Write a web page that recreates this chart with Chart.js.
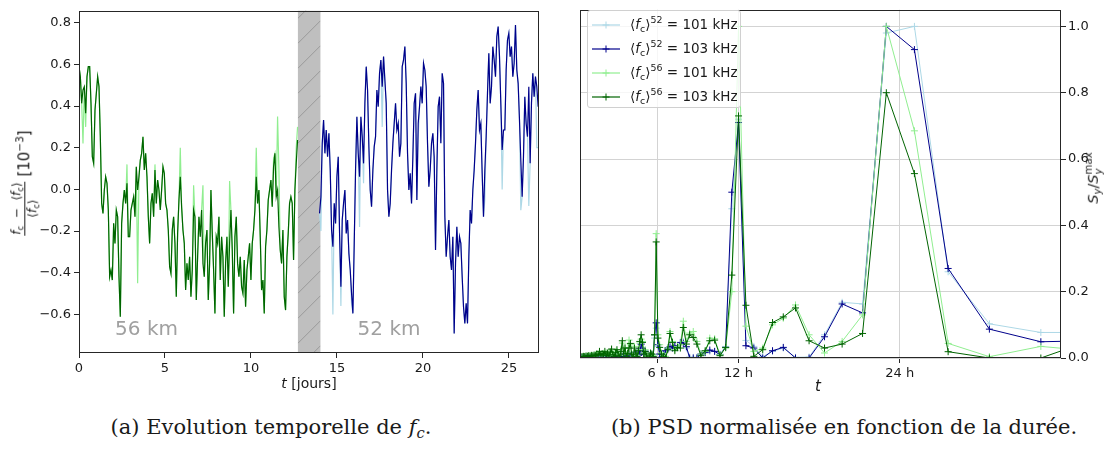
<!DOCTYPE html>
<html><head><meta charset="utf-8">
<script src="https://cdn.jsdelivr.net/npm/chart.js@4.4.1/dist/chart.umd.min.js"></script>
<style>
body{margin:0;background:#fff;width:1106px;height:450px;position:relative;overflow:hidden;font-family:'DejaVu Sans',sans-serif;color:#1a1a1a;}
canvas{position:absolute;}
.lbl{position:absolute;white-space:nowrap;line-height:1;}
sub{font-size:70%;vertical-align:-0.3em;line-height:0;}
sup{font-size:70%;vertical-align:0.6em;line-height:0;}
.frac{display:inline-block;vertical-align:middle;text-align:center;font-size:12px;line-height:1.1;}
.frac .num{display:block;border-bottom:1px solid #1a1a1a;padding:0 1px 1px;}
.frac .den{display:block;padding-top:1px;}
#legend{position:absolute;left:587px;top:10px;width:154px;height:98px;background:rgba(255,255,255,0.8);border:1px solid #d0d0d0;border-radius:3px;box-sizing:border-box;}
.row{position:absolute;left:0;height:20px;width:154px;}
.row svg{position:absolute;left:4px;top:2px;}
.row span{position:absolute;left:42px;top:3px;font-size:13.5px;white-space:nowrap;line-height:1;}
.cap{position:absolute;white-space:nowrap;font-family:'DejaVu Serif',serif;font-size:21px;transform:translateX(-50%);}
.stack{display:inline-block;vertical-align:middle;font-size:70%;line-height:1;text-align:left;}
.stack span{display:block;}
</style></head><body>
<canvas id="c1" width="553" height="400" style="left:0;top:0"></canvas>
<canvas id="c2" width="546" height="400" style="left:560px;top:0"></canvas>

<div class="lbl" style="left:25px;top:183px;transform:translate(-50%,-50%) rotate(-90deg);font-size:15px;">
<span class="frac"><span class="num"><i>f</i><sub>c</sub> &nbsp;−&nbsp; ⟨<i>f</i><sub>c</sub>⟩</span><span class="den">⟨<i>f</i><sub>c</sub>⟩</span></span> [10<sup>−3</sup>]</div>
<div class="lbl" style="left:309px;top:383px;transform:translate(-50%,-50%);font-size:14px;"><i>t</i> [jours]</div>
<div class="lbl" style="left:818px;top:386px;transform:translate(-50%,-50%);font-size:15px;"><i>t</i></div>
<div class="lbl" style="left:1094px;top:178px;transform:translate(-50%,-50%) rotate(-90deg);font-size:14.5px;"><i>S</i><sub><i>y</i></sub>/<i>S</i><span class="stack"><span>max</span><span><i>y</i></span></span></div>

<div id="legend">
 <div class="row" style="top:4px"><svg width="30" height="16"><line x1="0" y1="8" x2="28" y2="8" stroke="#add8e6" stroke-width="1.2"/><path d="M14 4.5V11.5M10.5 8H17.5" stroke="#add8e6" stroke-width="1"/></svg><span>⟨<i>f</i><sub>c</sub>⟩<sup>52</sup> = 101 kHz</span></div>
 <div class="row" style="top:28px"><svg width="30" height="16"><line x1="0" y1="8" x2="28" y2="8" stroke="#00008b" stroke-width="1.2"/><path d="M14 4.5V11.5M10.5 8H17.5" stroke="#00008b" stroke-width="1"/></svg><span>⟨<i>f</i><sub>c</sub>⟩<sup>52</sup> = 103 kHz</span></div>
 <div class="row" style="top:52px"><svg width="30" height="16"><line x1="0" y1="8" x2="28" y2="8" stroke="#90ee90" stroke-width="1.2"/><path d="M14 4.5V11.5M10.5 8H17.5" stroke="#90ee90" stroke-width="1"/></svg><span>⟨<i>f</i><sub>c</sub>⟩<sup>56</sup> = 101 kHz</span></div>
 <div class="row" style="top:76px"><svg width="30" height="16"><line x1="0" y1="8" x2="28" y2="8" stroke="#006400" stroke-width="1.2"/><path d="M14 4.5V11.5M10.5 8H17.5" stroke="#006400" stroke-width="1"/></svg><span>⟨<i>f</i><sub>c</sub>⟩<sup>56</sup> = 103 kHz</span></div>
</div>

<div class="cap" style="left:271px;top:415px;">(a) Evolution temporelle de <i>f<sub>c</sub></i>.</div>
<div class="cap" style="left:844px;top:415px;">(b) PSD normalisée en fonction de la durée.</div>

<script>
// ---------- Panel (a): time series ----------
const sampleStepDays = 0.0775;   // sampling interval of the series (days)
const start56 = 0.0;             // first sample day, 56 km
const start52 = 13.99;           // first sample day, 52 km
const bandDays = [12.73, 14.04]; // shaded gap
const regionLabels = ['56 km', '52 km'];
const regionLabelDays = [2.1, 16.2];
const regionLabelValue = -0.675;
const xTicksA = [0, 5, 10, 15, 20, 25];
const yTicksA = [-0.6, -0.4, -0.2, 0.0, 0.2, 0.4, 0.6, 0.8];

const v56_103 = [0.589,0.541,0.413,0.477,0.493,0.365,0.541,0.589,0.589,0.413,0.157,0.125,0.381,0.461,0.541,0.493,0.253,-0.067,-0.115,-0.003,0.061,0.029,-0.099,-0.419,-0.387,-0.435,-0.163,-0.259,-0.099,-0.131,-0.419,-0.611,-0.163,-0.067,-0.003,-0.067,0.029,-0.227,-0.227,-0.099,-0.067,-0.035,-0.131,0.109,-0.003,0.061,0.141,0.173,0.253,0.093,0.173,0.061,-0.131,-0.259,-0.067,-0.019,-0.131,0.093,-0.067,0.045,-0.003,-0.099,-0.003,0.109,0.077,-0.067,-0.099,-0.195,-0.371,-0.403,-0.195,-0.131,-0.259,-0.515,-0.211,-0.051,0.061,-0.083,-0.195,-0.259,-0.483,-0.355,-0.435,-0.323,-0.515,-0.387,-0.099,-0.131,-0.531,-0.323,-0.131,-0.227,-0.099,-0.355,-0.419,-0.259,-0.195,-0.531,-0.355,-0.003,-0.211,-0.387,-0.595,-0.227,-0.259,-0.131,-0.435,-0.227,-0.323,-0.611,-0.355,-0.227,-0.467,-0.259,-0.099,-0.291,-0.595,-0.227,-0.131,-0.355,-0.419,-0.323,-0.467,-0.499,-0.339,-0.563,-0.387,-0.323,-0.259,-0.435,-0.259,-0.195,-0.099,0.061,-0.067,-0.003,-0.227,-0.483,-0.435,-0.595,-0.275,-0.195,-0.051,-0.003,0.045,-0.083,0.109,0.173,-0.035,-0.003,-0.179,-0.291,-0.355,-0.195,-0.515,-0.579,-0.323,-0.211,-0.067,-0.035,-0.067,-0.339,-0.003,0.125,0.237];
const v56_101 = [0.589,0.541,0.413,0.22,0.493,0.3,0.541,0.589,0.589,0.413,0.157,0.125,0.381,0.461,0.541,0.493,0.253,-0.067,-0.115,-0.003,0.061,0.029,-0.099,-0.419,-0.387,-0.435,-0.163,-0.259,-0.099,-0.131,-0.419,-0.611,-0.163,-0.067,-0.003,-0.067,0.12,-0.227,-0.227,-0.099,-0.067,-0.035,-0.131,0.109,-0.45,0.061,0.141,0.173,0.253,0.093,0.173,0.061,-0.131,-0.259,-0.067,-0.019,-0.131,0.12,-0.067,0.045,-0.003,-0.099,-0.003,0.109,0.077,-0.067,-0.099,-0.195,-0.371,-0.403,-0.195,-0.131,-0.259,-0.515,-0.211,-0.051,0.2,-0.083,-0.195,-0.259,-0.483,-0.355,-0.435,-0.323,-0.515,-0.387,0.02,-0.131,-0.531,-0.323,-0.131,-0.227,-0.099,0.02,-0.419,-0.259,-0.195,-0.531,-0.355,-0.003,-0.211,-0.387,-0.595,-0.227,-0.259,-0.131,-0.435,-0.227,-0.323,-0.611,-0.355,-0.227,-0.467,0.04,-0.099,-0.291,-0.595,-0.227,-0.131,-0.355,-0.419,-0.323,-0.467,-0.499,-0.339,-0.563,-0.387,-0.323,-0.259,-0.435,-0.259,-0.195,-0.099,0.2,-0.067,-0.003,-0.227,-0.483,-0.435,-0.595,-0.275,-0.195,-0.051,-0.003,0.045,-0.083,0.15,0.173,-0.035,0.35,0.1,-0.291,-0.355,-0.195,-0.515,-0.579,-0.323,-0.211,-0.067,-0.035,-0.067,-0.339,-0.003,0.2,0.3];
const v52_103 = [-0.115,-0.035,0.221,0.333,0.173,0.285,0.157,0.269,0.093,-0.195,-0.275,-0.067,-0.163,0.061,0.157,-0.211,-0.467,-0.147,-0.067,-0.003,-0.211,-0.147,-0.307,-0.387,-0.499,-0.595,-0.259,0.093,0.349,0.173,0.061,0.349,0.253,0.125,0.413,0.589,0.477,0.205,-0.003,-0.083,0.093,0.205,0.253,0.477,0.397,0.557,0.621,0.493,0.637,0.525,0.413,-0.003,-0.131,-0.067,0.093,0.221,0.317,0.413,0.285,0.317,0.157,0.221,0.589,0.621,0.685,0.509,0.173,-0.003,0.077,-0.067,0.157,0.413,0.461,-0.051,0.317,0.397,0.493,0.413,0.605,0.573,0.493,0.221,0.013,0.093,0.221,0.269,0.157,-0.291,0.093,0.397,0.445,0.221,0.557,0.509,-0.131,-0.323,-0.227,-0.147,-0.323,-0.387,-0.227,-0.691,-0.355,-0.179,-0.323,-0.227,-0.259,-0.419,-0.563,-0.643,-0.547,-0.643,-0.323,-0.099,-0.163,-0.003,0.093,0.221,0.381,0.477,0.285,0.317,0.077,-0.131,0.093,0.253,0.461,0.653,0.413,0.493,0.685,0.621,0.541,0.733,0.781,0.637,0.413,0.189,0.285,0.285,0.573,0.717,0.749,0.637,0.685,0.541,0.605,0.789,0.573,0.509,0.333,0.141,-0.035,0.157,0.445,0.317,0.253,0.493,0.125,0.413,0.557,0.445,0.541,0.493,0.397];
const v52_101 = [-0.115,-0.2,0.221,0.333,0.173,0.285,0.157,0.269,0.093,-0.195,-0.6,-0.067,-0.163,0.061,0.157,-0.211,-0.56,-0.147,-0.067,-0.003,-0.211,-0.147,-0.307,-0.387,-0.55,-0.595,-0.259,0.093,0.349,0.173,-0.18,0.349,0.253,0.03,0.413,0.589,0.477,0.205,-0.003,-0.083,0.093,0.205,0.253,0.477,0.397,0.557,0.621,0.3,0.637,0.525,0.413,-0.003,-0.131,-0.067,0.093,0.221,0.317,0.413,0.285,0.317,0.157,0.221,0.589,0.621,0.685,0.509,0.173,-0.003,0.077,-0.067,0.157,0.413,0.461,-0.051,0.25,0.397,0.493,0.413,0.605,0.573,0.493,0.221,0.013,0.093,0.221,0.269,0.1,-0.291,0.093,0.397,0.445,0.221,0.557,0.509,-0.131,-0.323,-0.227,-0.147,-0.323,-0.387,-0.227,-0.691,-0.355,-0.179,-0.323,-0.227,-0.259,-0.419,-0.563,-0.643,-0.547,-0.643,-0.323,-0.099,-0.163,-0.003,0.093,0.221,0.381,0.477,0.285,0.317,0.077,-0.131,-0.05,0.253,0.461,0.653,0.413,0.493,0.685,0.621,0.541,0.733,0.781,0.637,0.413,0.0,0.285,0.285,0.573,0.717,0.749,0.637,0.685,0.541,0.605,0.789,0.573,0.509,0.333,-0.1,-0.035,0.157,0.445,0.317,0.253,-0.08,0.125,0.413,0.557,0.445,0.541,0.2,0.2];

// ---------- Panel (b): normalised PSD vs period ----------
const periodsH = [0.35,0.45,0.55,0.65,0.75,0.85,0.95,1.05,1.15,1.25,1.35,1.45,1.55,1.65,1.75,1.85,1.95,2.05,2.15,2.25,2.35,2.45,2.55,2.65,2.75,2.85,2.95,3.05,3.15,3.25,3.35,3.45,3.55,3.65,3.75,3.85,3.95,4.05,4.15,4.25,4.35,4.45,4.55,4.65,4.75,4.85,4.95,5.05,5.15,5.25,5.35,5.45,5.55,5.65,5.75,5.87,6.0,6.13,6.27,6.42,6.57,6.73,6.9,7.08,7.26,7.46,7.67,7.89,8.12,8.36,8.63,8.9,9.2,9.52,9.86,10.22,10.62,11.04,11.5,12.0,12.55,13.14,13.8,14.53,15.33,16.24,17.25,18.4,19.71,21.23,23.0,25.09,27.6,30.67,34.5,39.43];
const psd52_101 = [0.002,0.002,0.001,0.002,0.001,0.002,0.002,0.001,0.002,0.002,0.001,0.002,0.002,0.003,0.002,0.003,0.002,0.003,0.003,0.002,0.004,0.003,0.004,0.003,0.005,0.004,0.005,0.004,0.006,0.005,0.005,0.006,0.007,0.006,0.008,0.009,0.008,0.006,0.01,0.008,0.012,0.018,0.01,0.018,0.04,0.028,0.012,0.022,0.006,0.003,0.008,0.006,0.012,0.005,0.06,0.09,0.035,0.01,0.004,0.012,0.02,0.028,0.03,0.035,0.035,0.03,0.045,0.05,0.03,0.003,0.002,0.002,0.01,0.015,0.02,0.02,0.012,0.035,0.45,0.72,0.053,0.035,0.004,0.02,0.03,0.002,0.003,0.07,0.168,0.163,0.98,1.0,0.26,0.103,0.077,0.077];
const psd52_103 = [0.002,0.001,0.002,0.001,0.002,0.001,0.002,0.002,0.001,0.002,0.002,0.001,0.003,0.002,0.003,0.002,0.003,0.002,0.004,0.002,0.003,0.004,0.003,0.005,0.003,0.004,0.006,0.003,0.005,0.004,0.006,0.004,0.008,0.005,0.006,0.01,0.007,0.005,0.009,0.006,0.01,0.02,0.008,0.015,0.042,0.03,0.01,0.02,0.004,0.002,0.006,0.004,0.01,0.003,0.07,0.106,0.04,0.012,0.002,0.01,0.022,0.03,0.034,0.03,0.037,0.032,0.047,0.045,0.034,0.0,0.0,0.0,0.012,0.017,0.024,0.02,0.01,0.032,0.5,0.71,0.037,0.03,0.0,0.022,0.032,0.0,0.0,0.064,0.163,0.136,1.0,0.93,0.27,0.087,0.049,0.053];
const psd56_101 = [0.003,0.004,0.005,0.004,0.006,0.005,0.007,0.006,0.008,0.007,0.01,0.009,0.012,0.015,0.012,0.01,0.014,0.012,0.016,0.01,0.014,0.012,0.025,0.012,0.008,0.02,0.02,0.01,0.008,0.025,0.045,0.015,0.032,0.01,0.018,0.054,0.04,0.012,0.006,0.035,0.012,0.008,0.025,0.045,0.057,0.05,0.015,0.025,0.008,0.004,0.006,0.012,0.01,0.008,0.07,0.375,0.07,0.04,0.015,0.008,0.005,0.03,0.08,0.05,0.025,0.035,0.04,0.111,0.05,0.075,0.08,0.05,0.012,0.02,0.06,0.058,0.01,0.03,0.2,1.0,0.096,0.02,0.03,0.1,0.12,0.16,0.07,0.015,0.05,0.13,1.0,0.685,0.044,0.004,0.035,0.017];
const psd56_103 = [0.004,0.005,0.004,0.006,0.005,0.007,0.005,0.008,0.006,0.009,0.007,0.012,0.008,0.02,0.01,0.013,0.009,0.02,0.008,0.015,0.006,0.018,0.027,0.01,0.004,0.016,0.025,0.008,0.003,0.02,0.052,0.012,0.03,0.005,0.014,0.03,0.044,0.01,0.002,0.03,0.015,0.004,0.022,0.05,0.07,0.047,0.012,0.02,0.006,0.0,0.002,0.015,0.012,0.004,0.07,0.35,0.06,0.032,0.012,0.005,0.0,0.025,0.074,0.047,0.022,0.032,0.03,0.092,0.042,0.07,0.062,0.042,0.007,0.022,0.052,0.054,0.007,0.032,0.25,0.73,0.159,0.005,0.025,0.107,0.124,0.151,0.052,0.03,0.042,0.074,0.80,0.556,0.019,0.0,0.0,0.07];
const xTicksB = [6, 12, 24];
const yTicksB = [0.0, 0.2, 0.4, 0.6, 0.8, 1.0];

const LIGHTBLUE = '#add8e6', DARKBLUE = '#00008b', LIGHTGREEN = '#90ee90', DARKGREEN = '#006400';
const TICKFONT = {family: 'DejaVu Sans', size: 13};
const fmt1 = v => v.toFixed(1).replace('-', '\u2212');

Chart.defaults.color = '#1a1a1a';

const series = (vals, start) => vals.map((v, i) => ({x: start + i * sampleStepDays, y: v}));

const boxPlugin = {id: 'box', afterDraw(chart) {
  const {ctx, chartArea: a} = chart;
  ctx.save(); ctx.strokeStyle = '#262626'; ctx.lineWidth = 1;
  ctx.strokeRect(Math.round(a.left) + 0.5, Math.round(a.top) + 0.5, Math.round(a.right - a.left) - 1, Math.round(a.bottom - a.top) - 1);
  ctx.restore();
}};

const bandPlugin = {id: 'band', beforeDatasetsDraw(chart) {
  const {ctx, chartArea: a, scales: {x}} = chart;
  const x1 = x.getPixelForValue(bandDays[0]), x2 = x.getPixelForValue(bandDays[1]);
  const w = x2 - x1;
  ctx.save();
  ctx.fillStyle = '#bfbfbf'; ctx.fillRect(x1, a.top, w, a.bottom - a.top);
  ctx.beginPath(); ctx.rect(x1, a.top, w, a.bottom - a.top); ctx.clip();
  ctx.strokeStyle = '#999999'; ctx.lineWidth = 1;
  for (let y = a.top - 40; y < a.bottom + 40; y += 25) {
    ctx.beginPath(); ctx.moveTo(x1, y + w); ctx.lineTo(x2, y); ctx.stroke();
  }
  ctx.restore();
}};

const textPlugin = {id: 'regionText', afterDatasetsDraw(chart) {
  const {ctx, scales: {x, y}} = chart;
  ctx.save(); ctx.font = '20px "DejaVu Sans"'; ctx.fillStyle = '#a0a0a0'; ctx.textBaseline = 'middle';
  regionLabels.forEach((t, i) => ctx.fillText(t, x.getPixelForValue(regionLabelDays[i]), y.getPixelForValue(regionLabelValue)));
  ctx.restore();
}};

const lineDs = (data, color, order) => ({data, borderColor: color, backgroundColor: color, borderWidth: 1.2, pointRadius: 0, tension: 0, order});

new Chart(document.getElementById('c1'), {
  type: 'line',
  data: {datasets: [
    lineDs(series(v56_101, start56), LIGHTGREEN, 4),
    lineDs(series(v56_103, start56), DARKGREEN, 3),
    lineDs(series(v52_101, start52), LIGHTBLUE, 2),
    lineDs(series(v52_103, start52), DARKBLUE, 1)
  ]},
  options: {
    responsive: false, animation: false, events: [],
    layout: {padding: {left: 0, top: 10, right: 14, bottom: 0}},
    plugins: {legend: {display: false}, tooltip: {enabled: false}},
    scales: {
      x: {type: 'linear', min: 0, max: 26.75,
          afterBuildTicks: s => { s.ticks = xTicksA.map(v => ({value: v})); },
          afterFit: s => { s.height = 47; },
          grid: {drawOnChartArea: false, tickLength: 5, tickColor: '#262626'}, border: {display: false},
          ticks: {font: TICKFONT, padding: 3, maxRotation: 0, callback: v => String(v)}},
      y: {type: 'linear', min: -0.785, max: 0.857,
          afterBuildTicks: s => { s.ticks = yTicksA.map(v => ({value: v})); },
          afterFit: s => { s.width = 79; },
          grid: {drawOnChartArea: false, tickLength: 5, tickColor: '#262626'}, border: {display: false},
          ticks: {font: TICKFONT, padding: 3, callback: v => fmt1(v)}}
    }
  },
  plugins: [bandPlugin, textPlugin, boxPlugin]
});

const psdDs = (vals, color, order) => ({
  data: vals.map((v, i) => ({x: periodsH[i], y: v})),
  borderColor: color, backgroundColor: color, borderWidth: 1, tension: 0, order,
  pointStyle: 'cross', pointRadius: 3.5, pointBorderWidth: 1, pointBorderColor: color
});

new Chart(document.getElementById('c2'), {
  type: 'line',
  data: {datasets: [
    psdDs(psd52_101, LIGHTBLUE, 4),
    psdDs(psd52_103, DARKBLUE, 3),
    psdDs(psd56_101, LIGHTGREEN, 2),
    psdDs(psd56_103, DARKGREEN, 1)
  ]},
  options: {
    responsive: false, animation: false, events: [],
    layout: {padding: {left: 20, top: 4, right: 0, bottom: 0}},
    plugins: {legend: {display: false}, tooltip: {enabled: false}},
    scales: {
      x: {type: 'linear', min: 0.2, max: 36.0,
          afterBuildTicks: s => { s.ticks = xTicksB.map(v => ({value: v})); },
          afterFit: s => { s.height = 42; },
          grid: {drawOnChartArea: true, color: '#d3d3d3', lineWidth: 1, tickLength: 5, tickColor: '#262626'}, border: {display: false},
          ticks: {font: TICKFONT, padding: 3, maxRotation: 0, callback: v => v + ' h'}},
      y: {type: 'linear', position: 'right', min: 0, max: 1.05,
          afterBuildTicks: s => { s.ticks = yTicksB.map(v => ({value: v})); },
          afterFit: s => { s.width = 45; },
          grid: {drawOnChartArea: true, color: '#d3d3d3', lineWidth: 1, tickLength: 5, tickColor: '#262626'}, border: {display: false},
          ticks: {font: TICKFONT, padding: 2, callback: v => fmt1(v)}}
    }
  },
  plugins: [boxPlugin]
});
</script>
</body></html>
